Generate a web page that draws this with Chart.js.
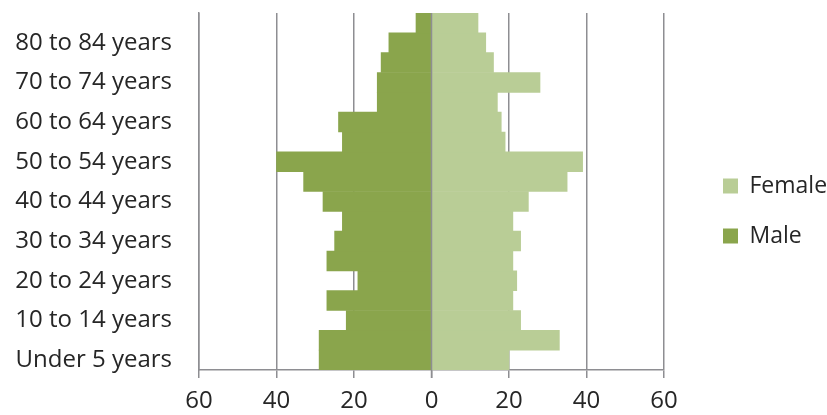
<!DOCTYPE html>
<html>
<head>
<meta charset="utf-8">
<script src="https://cdn.jsdelivr.net/npm/chart.js@4/dist/chart.umd.min.js"></script>
<style>
  html, body { margin: 0; padding: 0; background: #ffffff; }
  #wrap { width: 827px; height: 415px; }
</style>
</head>
<body>
<div id="wrap"><canvas id="pyramid" width="827" height="415"></canvas></div>
<script>
// Age groups, youngest first (drawn from the bottom up)
const ageGroups = [
  'Under 5 years', '5 to 9 years', '10 to 14 years', '15 to 19 years',
  '20 to 24 years', '25 to 29 years', '30 to 34 years', '35 to 39 years',
  '40 to 44 years', '45 to 49 years', '50 to 54 years', '55 to 59 years',
  '60 to 64 years', '65 to 69 years', '70 to 74 years', '75 to 79 years',
  '80 to 84 years', '85 years and over'
];
// Population counts per age group
const maleCounts   = [29, 29, 22, 27, 19, 27, 25, 23, 28, 33, 40, 23, 24, 14, 14, 13, 11, 4];
const femaleCounts = [20, 33, 23, 21, 22, 21, 23, 21, 25, 35, 39, 19, 18, 17, 28, 16, 14, 12];
// Value axis ticks (shown as absolute values on both sides)
const axisTicks = [-60, -40, -20, 0, 20, 40, 60];

const AXIS_FONT = { family: '"Open Sans", "Noto Sans", sans-serif', size: 24 };
const LEGEND_FONT = { family: '"Open Sans", "Noto Sans", sans-serif', size: 23 };
const TEXT = '#262626';
const GRID = '#8e8e92';

// Vertical axis line at zero, drawn over the bars
const zeroLine = {
  id: 'zeroLine',
  afterDatasetsDraw(chart) {
    const { ctx, chartArea, scales } = chart;
    const x = scales.x.getPixelForValue(0);
    ctx.save();
    ctx.strokeStyle = GRID;
    ctx.lineWidth = 1.5;
    ctx.beginPath();
    ctx.moveTo(x, chartArea.top);
    ctx.lineTo(x, chartArea.bottom + 8);
    ctx.stroke();
    ctx.restore();
  }
};

new Chart(document.getElementById('pyramid'), {
  type: 'bar',
  data: {
    labels: ageGroups,
    datasets: [
      {
        label: 'Female',
        data: femaleCounts,
        backgroundColor: '#b9cd96',
        barPercentage: 1,
        categoryPercentage: 1
      },
      {
        label: 'Male',
        data: maleCounts.map(v => -v),
        backgroundColor: '#8aa54c',
        barPercentage: 1,
        categoryPercentage: 1
      }
    ]
  },
  options: {
    indexAxis: 'y',
    responsive: false,
    animation: false,
    layout: { padding: { top: 13, right: 0, bottom: 6, left: 0 } },
    plugins: {
      tooltip: { enabled: false },
      legend: {
        position: 'right',
        maxWidth: 131,
        labels: {
          font: LEGEND_FONT,
          color: TEXT,
          boxWidth: 15,
          boxHeight: 15,
          padding: 27
        }
      }
    },
    scales: {
      x: {
        stacked: true,
        min: -60,
        max: 60,
        afterBuildTicks(scale) {
          scale.ticks = axisTicks.map(v => ({ value: v }));
        },
        afterFit(scale) {
          scale.height = 39;
        },
        ticks: {
          font: AXIS_FONT,
          color: TEXT,
          padding: 9,
          minRotation: 0,
          maxRotation: 0,
          callback: v => Math.abs(v)
        },
        grid: {
          color: GRID,
          lineWidth: 1.5,
          drawTicks: true,
          tickLength: 8,
          tickColor: GRID
        },
        border: { color: GRID, width: 1.5 }
      },
      y: {
        stacked: true,
        reverse: true,
        afterFit(scale) {
          scale.width = 199;
          scale.paddingTop = 0;
          scale.paddingBottom = 0;
        },
        ticks: {
          autoSkip: false,
          font: AXIS_FONT,
          color: TEXT,
          padding: 27,
          callback: (v, i) => (i % 2 === 0 ? ageGroups[i] : '')
        },
        grid: { display: false, drawTicks: false },
        border: { display: true, color: GRID, width: 1.5 }
      },
      // empty strip between the plot and the legend
      gap: {
        type: 'linear',
        position: 'right',
        afterFit(scale) {
          scale.width = 32;
        },
        ticks: { display: false },
        grid: { display: false, drawTicks: false },
        border: { display: false }
      }
    }
  },
  plugins: [zeroLine]
});
</script>
</body>
</html>
